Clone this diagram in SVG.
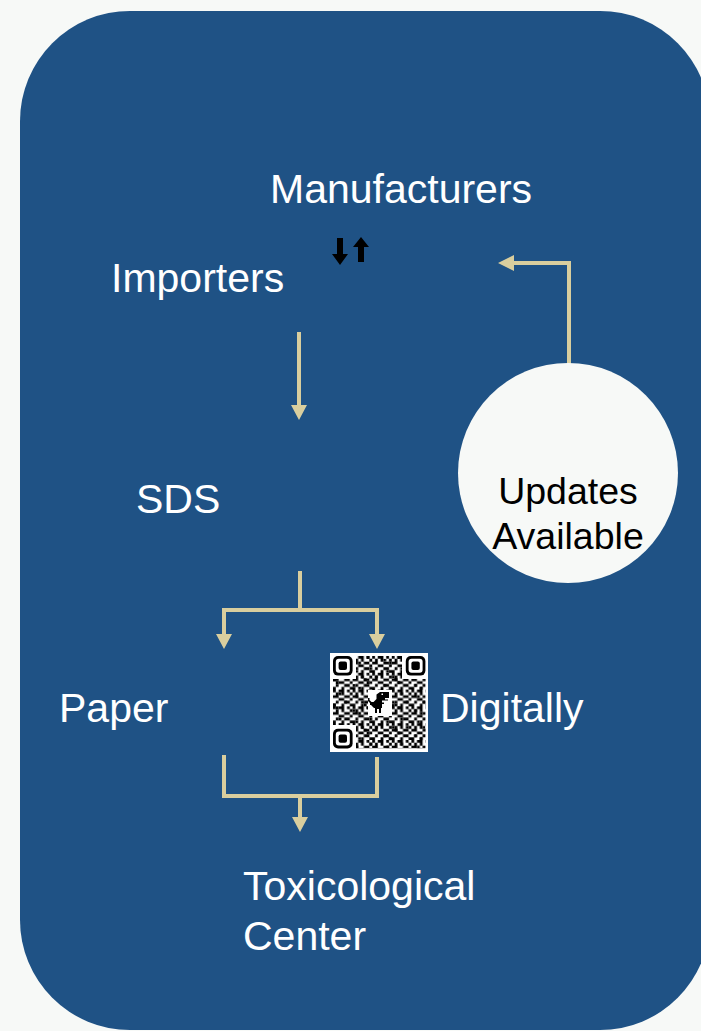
<svg xmlns="http://www.w3.org/2000/svg" width="701" height="1031" viewBox="0 0 701 1031">
<defs>
<style>
.lbl{font-family:"Liberation Sans",Arial,sans-serif;font-size:41px;fill:#ffffff}
.lblc{font-family:"Liberation Sans",Arial,sans-serif;font-size:37.5px;fill:#000000;text-anchor:middle}
.ln{stroke:#D9CE9E;stroke-width:4;fill:none}
.hd{fill:#D9CE9E}
</style>
<pattern id="qa" x="333" y="656" width="19.6" height="16.8" patternUnits="userSpaceOnUse">
<path fill="#000" d="M0 0h2.8v2.8h-2.8zM5.6 0h5.6v2.8h-5.6zM14 0h2.8v2.8h-2.8zM2.8 2.8h2.8v2.8h-2.8zM8.4 2.8h2.8v2.8h-2.8zM16.8 2.8h2.8v2.8h-2.8zM0 5.6h5.6v2.8h-5.6zM11.2 5.6h2.8v2.8h-2.8zM14 5.6h2.8v2.8h-2.8zM5.6 8.4h2.8v2.8h-2.8zM8.4 8.4h2.8v2.8h-2.8zM16.8 8.4h2.8v2.8h-2.8zM2.8 11.2h2.8v2.8h-2.8zM11.2 11.2h5.6v2.8h-5.6zM0 14h2.8v2.8h-2.8zM8.4 14h2.8v2.8h-2.8zM16.8 14h2.8v2.8h-2.8z"/>
</pattern>
<pattern id="qb" x="333" y="656" width="30.8" height="25.2" patternUnits="userSpaceOnUse">
<path fill="#000" d="M2.8 0h2.8v2.8h-2.8zM19.6 2.8h2.8v2.8h-2.8zM25.2 5.6h2.8v2.8h-2.8zM5.6 11.2h2.8v2.8h-2.8zM22.4 14h2.8v2.8h-2.8zM28 19.6h2.8v2.8h-2.8zM11.2 19.6h2.8v2.8h-2.8zM0 22.4h2.8v2.8h-2.8z"/>
</pattern>
<g id="finder">
<rect x="0" y="0" width="19.6" height="19.6" rx="5" fill="#000"/>
<rect x="2.8" y="2.8" width="14" height="14" rx="3" fill="#fff"/>
<rect x="5.6" y="5.6" width="8.4" height="8.4" rx="2" fill="#000"/>
</g>
</defs>
<rect width="701" height="1031" fill="#F7F9F7"/>
<rect x="20" y="11" width="690" height="1019" rx="110" ry="110" fill="#1F5285"/>

<g id="connectors">
<path class="ln" d="M299 332V406"/>
<path class="hd" d="M291 405h16l-8 15z"/>
<path class="ln" d="M300 571V610M222 610H379M224 610V635M377 610V635"/>
<path class="hd" d="M216 634h16l-8 15zM369 634h16l-8 15z"/>
<path class="ln" d="M224 755V796H377V757M300 796V818"/>
<path class="hd" d="M292 817h16l-8 15z"/>
<path class="ln" d="M569 364V263H512"/>
<path class="hd" d="M514 255v16l-16-8z"/>
<path fill="#000" d="M337 238h6v16h5l-8 11l-8-11h5z"/>
<path fill="#000" d="M358 262h6v-15h5l-8-10l-8 10h5z"/>
</g>

<g id="manufacturers"><text class="lbl" x="270" y="203">Manufacturers</text></g>
<g id="importers"><text class="lbl" x="111" y="292">Importers</text></g>
<g id="sds"><text class="lbl" x="136" y="513">SDS</text></g>
<g id="paper"><text class="lbl" x="59" y="722">Paper</text></g>
<g id="digitally">
<rect x="330" y="653" width="98" height="99" fill="#fff"/>
<rect x="333" y="656" width="92.4" height="92.4" fill="url(#qa)"/>
<rect x="333" y="656" width="92.4" height="92.4" fill="url(#qb)"/>
<rect x="330" y="653" width="26" height="26" fill="#fff"/>
<rect x="402" y="653" width="26" height="26" fill="#fff"/>
<rect x="330" y="725" width="26" height="27" fill="#fff"/>
<use href="#finder" x="333" y="656"/>
<use href="#finder" x="405.8" y="656"/>
<use href="#finder" x="333" y="728.8"/>
<rect x="368" y="690" width="24" height="26" fill="#fff"/>
<path fill="#000" transform="translate(369 692)" d="M11 0h9v6h-4v1.5h3v1h-6v2h2v1.5h-2v4h-1v5h-2v-4h-2v4h-2v-5h-1l-3-3l-1 0v-2l-2-2v-3h1.5v2l2 2h2l3-3v-4.5zM12.5 1.5v1.5h1.5v-1.5z"/>
<text class="lbl" x="440" y="722">Digitally</text>
</g>
<g id="updates">
<circle cx="568" cy="473" r="110" fill="#F7F9F7"/>
<text class="lblc" x="568" y="504">Updates</text>
<text class="lblc" x="568" y="549">Available</text>
</g>
<g id="toxicological">
<text class="lbl" x="243" y="900">Toxicological</text>
<text class="lbl" x="243" y="950">Center</text>
</g>
</svg>
